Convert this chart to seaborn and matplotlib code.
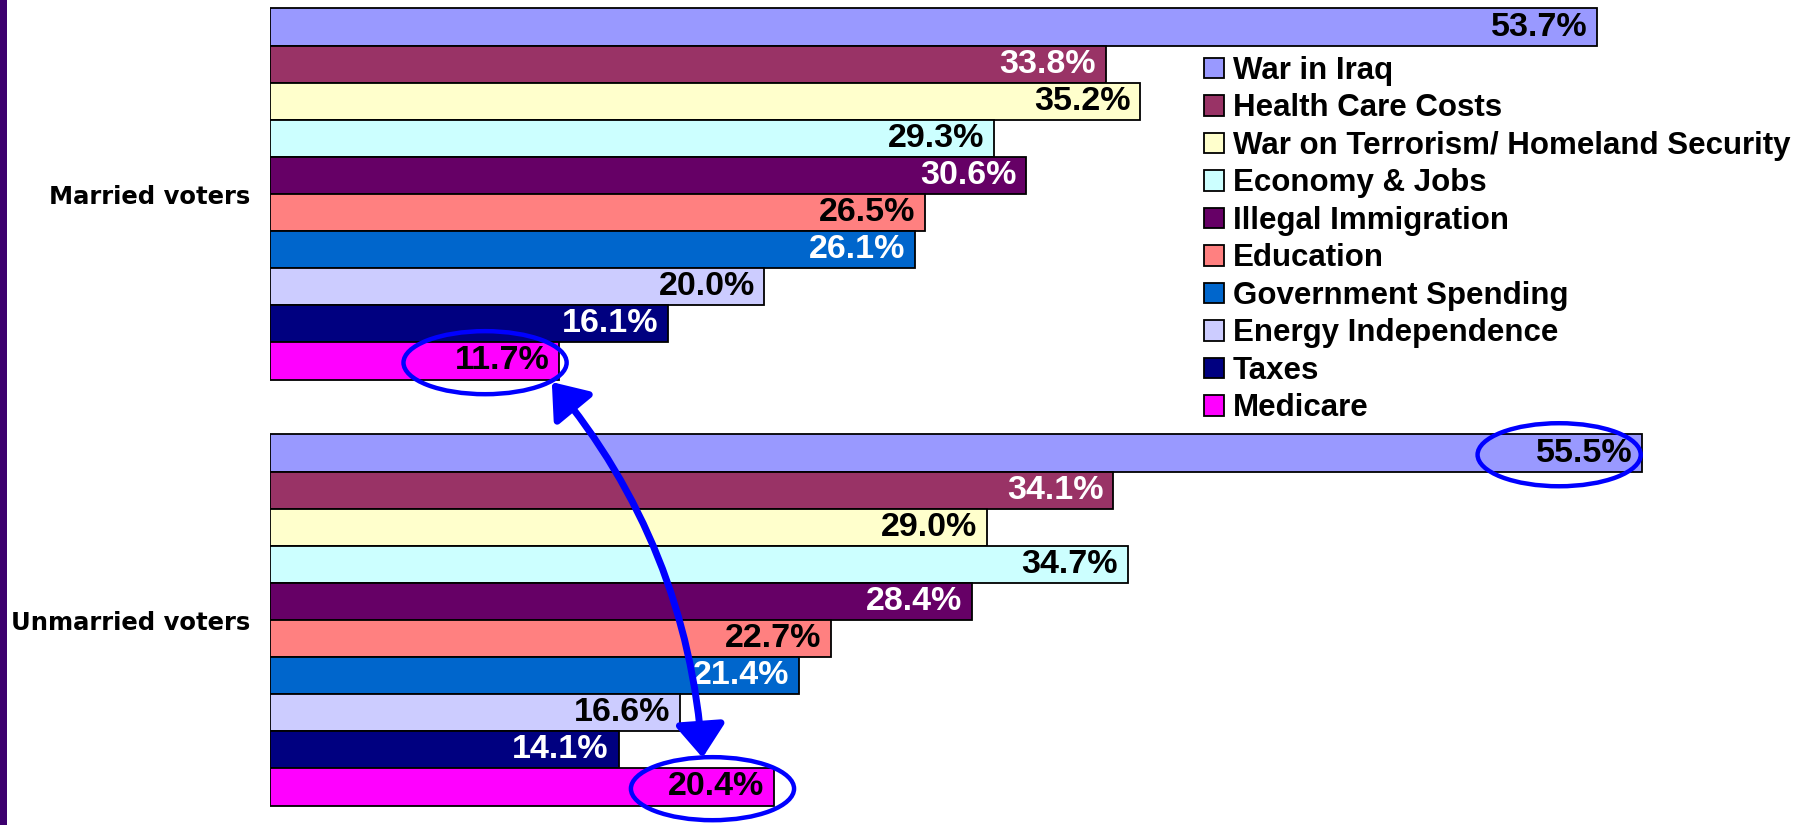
import pandas as pd
import matplotlib.pyplot as plt
import seaborn as sns
from matplotlib.patches import Ellipse, FancyArrowPatch, Rectangle

# Data
groups = ['Married voters', 'Unmarried voters']
issues = ['War in Iraq', 'Health Care Costs', 'War on Terrorism/ Homeland Security',
          'Economy & Jobs', 'Illegal Immigration', 'Education', 'Government Spending',
          'Energy Independence', 'Taxes', 'Medicare']
married = [53.7, 33.8, 35.2, 29.3, 30.6, 26.5, 26.1, 20.0, 16.1, 11.7]
unmarried = [55.5, 34.1, 29.0, 34.7, 28.4, 22.7, 21.4, 16.6, 14.1, 20.4]
colors = ['#9999FF', '#993366', '#FFFFCC', '#CCFFFF', '#660066',
          '#FF8080', '#0066CC', '#CCCCFF', '#000080', '#FF00FF']
white_text = ['Health Care Costs', 'Illegal Immigration', 'Government Spending', 'Taxes']

df = pd.DataFrame({
    'group': [groups[0]] * len(issues) + [groups[1]] * len(issues),
    'issue': issues * 2,
    'value': married + unmarried,
})

sns.set_style('white')
plt.rcParams['font.family'] = ['Liberation Sans', 'DejaVu Sans']
plt.rcParams['font.weight'] = 'bold'
plt.rcParams['text.color'] = 'black'
plt.rcParams['ytick.color'] = 'black'

W, H = 1808, 825
fig = plt.figure(figsize=(W / 100, H / 100), dpi=100)
x0 = 270  # left edge of the bars in pixels
ax = fig.add_axes([x0 / W, 0, 1 - x0 / W, 1])

sns.barplot(data=df, x='value', y='group', hue='issue', order=groups, hue_order=issues,
            palette=colors, orient='h', width=0.871, edgecolor='black', linewidth=1.3,
            saturation=1, ax=ax)

ax.set_xlim(0, (W - x0) / 24.72)
ax.set_ylim(1 + 205 / 426, -194 / 426)
ax.set_xlabel('')
ax.set_ylabel('')
ax.set_xticks([])
ax.tick_params(axis='y', length=0, pad=14.5)
for lab in ax.get_yticklabels():
    lab.set_fontfamily('DejaVu Sans')
    lab.set_fontweight('bold')
    lab.set_fontsize(17.5)
    lab.set_color('black')
sns.despine(ax=ax, left=True, bottom=True)

# value labels inside bar ends
bars = {}
for issue, cont in zip(issues, ax.containers):
    for bar in sorted(cont, key=lambda b: b.get_y()):
        g = groups[0] if bar.get_y() < 0.5 else groups[1]
        bars[(g, issue)] = bar
        ax.annotate(f'{bar.get_width():.1f}%',
                    (bar.get_width(), bar.get_y() + bar.get_height() / 2),
                    xytext=(-7, 0), textcoords='offset points', ha='right', va='center',
                    fontsize=24.5, fontweight='bold',
                    color='white' if issue in white_text else 'black')

# legend
sns.move_legend(ax, loc='upper left', bbox_to_anchor=(1204 / W, 1 - 56 / H),
                bbox_transform=fig.transFigure, frameon=False, title=None,
                fontsize=22.5, handlelength=0.63, handleheight=0.63, handletextpad=0.3,
                labelspacing=0.24, borderpad=0, borderaxespad=0)
for t in ax.get_legend().get_texts():
    t.set_fontweight('bold')
    t.set_color('black')
for h in ax.get_legend().legend_handles:
    h.set_edgecolor('black')
    h.set_linewidth(1.3)

# highlight ellipses and arrow
blue = '#0000FF'
for key, dx in [((groups[0], 'Medicare'), -3.0), ((groups[1], 'Medicare'), -2.5),
                ((groups[1], 'War in Iraq'), -3.35)]:
    b = bars[key]
    ax.add_patch(Ellipse((b.get_width() + dx, b.get_y() + b.get_height() / 2 + 0.004),
                         6.6, 0.148, fill=False, edgecolor=blue, linewidth=3.2, zorder=5))

top = bars[(groups[0], 'Medicare')]
bot = bars[(groups[1], 'Medicare')]
arrow = FancyArrowPatch((top.get_width() - 0.3, top.get_y() + top.get_height() + 0.006),
                        (bot.get_width() - 2.9, bot.get_y() - 0.025),
                        arrowstyle='<|-|>,head_length=1.0,head_width=0.75', mutation_scale=20,
                        connectionstyle='arc3,rad=-0.16', color=blue, linewidth=5,
                        shrinkA=0, shrinkB=0, zorder=6)
ax.add_patch(arrow)

# purple strip on the left edge
fig.patches.append(Rectangle((0, 0), 7 / W, 1, transform=fig.transFigure,
                             facecolor='#3C006E', edgecolor='none'))

fig.savefig('out.png', dpi=100, facecolor='white')
